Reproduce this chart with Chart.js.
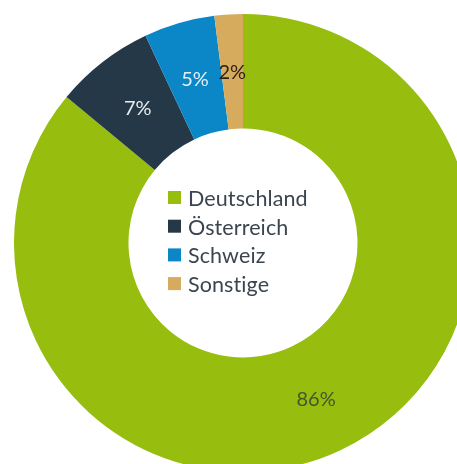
<!DOCTYPE html>
<html>
<head>
<meta charset="utf-8">
<script src="https://cdn.jsdelivr.net/npm/chart.js@4/dist/chart.umd.min.js"></script>
<style>
  html, body { margin: 0; padding: 0; background: #ffffff; overflow: hidden; width: 457px; height: 464px; }
  #wrap { position: absolute; left: 14px; top: 14px; width: 458px; height: 458px; }
</style>
</head>
<body>
<div id="wrap"><canvas id="c" width="458" height="458"></canvas></div>
<script>
const categories = ["Deutschland", "Österreich", "Schweiz", "Sonstige"];
const shares = [86, 7, 5, 2];
const sliceColors = ["#97bd0e", "#253847", "#0b87c8", "#d6ab5e"];
const labelColors = ["#45552f", "#e6ecef", "#e3eef6", "#2a2414"];
const legendTextColor = "#3b4550";

const valueLabels = {
  id: "valueLabels",
  afterDatasetsDraw(chart) {
    const ctx = chart.ctx;
    const meta = chart.getDatasetMeta(0);
    ctx.save();
    ctx.font = "20px Lato, 'Open Sans', sans-serif";
    ctx.textAlign = "center";
    ctx.textBaseline = "middle";
    meta.data.forEach((arc, i) => {
      const p = arc.tooltipPosition();
      ctx.fillStyle = labelColors[i];
      ctx.fillText(shares[i] + "%", p.x, p.y + 1);
    });
    ctx.restore();
  }
};

const centerLegend = {
  id: "centerLegend",
  afterDraw(chart) {
    const ctx = chart.ctx;
    const arc0 = chart.getDatasetMeta(0).data[0];
    const cx = arc0.x, cy = arc0.y;
    const rowH = 28.7;
    const box = 13;
    const boxX = cx - 75;
    const textX = cx - 55;
    const firstBase = cy - 37;
    ctx.save();
    ctx.font = "21.5px Lato, 'Open Sans', sans-serif";
    if ("letterSpacing" in ctx) ctx.letterSpacing = "0.1px";
    ctx.textAlign = "left";
    ctx.textBaseline = "alphabetic";
    categories.forEach((name, i) => {
      const base = firstBase + i * rowH;
      ctx.fillStyle = sliceColors[i];
      ctx.fillRect(boxX, base - 15, box, box);
      ctx.fillStyle = legendTextColor;
      ctx.fillText(name, textX, base);
    });
    ctx.restore();
  }
};

new Chart(document.getElementById("c"), {
  type: "doughnut",
  data: {
    labels: categories,
    datasets: [{
      data: shares,
      backgroundColor: sliceColors,
      borderWidth: 0
    }]
  },
  options: {
    responsive: false,
    animation: false,
    cutout: "50%",
    layout: { padding: 0 },
    plugins: {
      legend: { display: false },
      tooltip: { enabled: false }
    }
  },
  plugins: [valueLabels, centerLegend]
});
</script>
</body>
</html>
